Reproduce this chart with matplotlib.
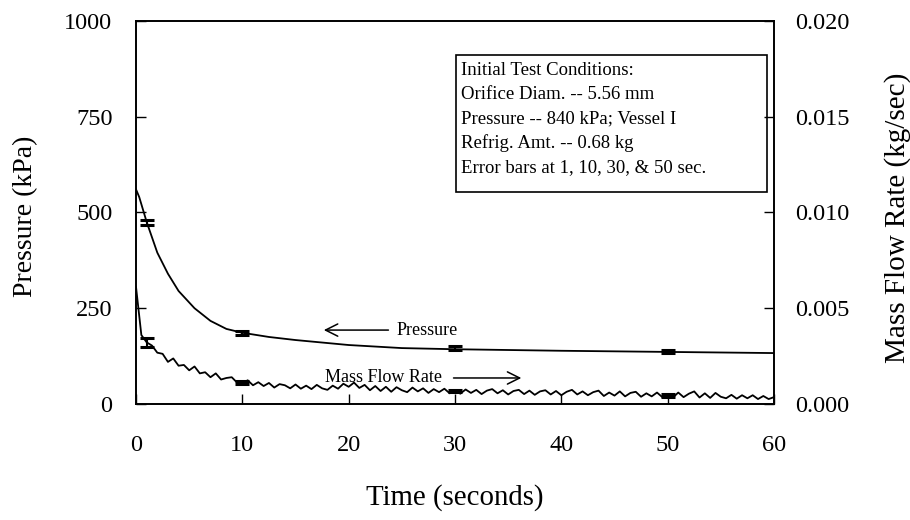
import numpy as np
import matplotlib
matplotlib.use("Agg")
import matplotlib.pyplot as plt
from matplotlib.patches import Rectangle

plt.rcParams["font.family"] = ["Liberation Serif", "DejaVu Serif"]

# pressure curve (kPa)
pressure_time = [0, 0.3, 1, 2, 3, 4, 5.5, 7, 8.5, 10, 12.5, 15, 20, 25, 30, 40, 50, 60]
pressure = [560, 540, 475, 395, 340, 295, 250, 217, 196, 186, 175, 167, 154, 146, 143, 139, 136, 133]

# mass flow rate (kg/sec), one reading every 0.5 s from 0 to 60 s
mass_flow = [
    0.00610, 0.00360, 0.00322, 0.00305, 0.00268, 0.00262, 0.00220, 0.00238, 0.00200, 0.00204,
    0.00176, 0.00196, 0.00160, 0.00166, 0.00140, 0.00160, 0.00128, 0.00136, 0.00140, 0.00112,
    0.00108, 0.00124, 0.00098, 0.00114, 0.00094, 0.00110, 0.00086, 0.00104, 0.00098, 0.00082,
    0.00102, 0.00080, 0.00096, 0.00078, 0.00100, 0.00082, 0.00074, 0.00096, 0.00080, 0.00106,
    0.00090, 0.00112, 0.00084, 0.00100, 0.00072, 0.00094, 0.00068, 0.00090, 0.00064, 0.00088,
    0.00072, 0.00062, 0.00086, 0.00066, 0.00082, 0.00058, 0.00078, 0.00062, 0.00080, 0.00056,
    0.00072, 0.00054, 0.00076, 0.00058, 0.00074, 0.00052, 0.00070, 0.00078, 0.00056, 0.00072,
    0.00050, 0.00068, 0.00074, 0.00052, 0.00070, 0.00048, 0.00066, 0.00072, 0.00050, 0.00068,
    0.00046, 0.00064, 0.00074, 0.00050, 0.00066, 0.00046, 0.00062, 0.00070, 0.00042, 0.00060,
    0.00044, 0.00066, 0.00040, 0.00058, 0.00064, 0.00038, 0.00056, 0.00040, 0.00060, 0.00036,
    0.00052, 0.00034, 0.00060, 0.00036, 0.00054, 0.00066, 0.00034, 0.00056, 0.00032, 0.00058,
    0.00038, 0.00030, 0.00048, 0.00028, 0.00046, 0.00030, 0.00046, 0.00026, 0.00042, 0.00026,
    0.00036,
]
flow_time = np.linspace(0, 60, len(mass_flow))

# error bars at 1, 10, 30, 50 s
err_time = [1, 10, 30, 50]
err_pressure = [474, 186, 146, 137]
err_pressure_size = [7, 5, 5, 5]
err_flow = [0.00320, 0.00110, 0.00068, 0.00045]
err_flow_size = [0.00024, 0.00008, 0.00006, 0.00006]

conditions = [
    "Initial Test Conditions:",
    "Orifice Diam. -- 5.56 mm",
    "Pressure -- 840 kPa; Vessel I",
    "Refrig. Amt. -- 0.68 kg",
    "Error bars at 1, 10, 30, & 50 sec.",
]

fig = plt.figure(figsize=(9.1, 5.2), dpi=100)
ax = fig.add_axes([0.1495, 0.223, 0.701, 0.737])
ax2 = ax.twinx()

ax.plot(pressure_time, pressure, color="black", lw=1.3)
ax.errorbar(err_time, err_pressure, yerr=err_pressure_size, fmt="none",
            ecolor="black", elinewidth=1.5, capsize=5, capthick=2.2)

ax2.plot(flow_time, mass_flow, color="black", lw=1.3)
ax2.errorbar(err_time, err_flow, yerr=err_flow_size, fmt="none",
             ecolor="black", elinewidth=1.5, capsize=5, capthick=2.2)

ax.set_xlim(0, 60)
ax.set_ylim(0, 1000)
ax2.set_ylim(0, 0.020)
ax.set_xticks([0, 10, 20, 30, 40, 50, 60])
ax.set_yticks([0, 250, 500, 750, 1000])
ax2.set_yticks([0, 0.005, 0.010, 0.015, 0.020])
ax2.set_yticklabels(["0.000", "0.005", "0.010", "0.015", "0.020"])

ax.tick_params(axis="y", direction="in", length=7, width=1, labelsize=17.5, pad=17)
ax.tick_params(axis="x", direction="in", length=7, width=1, labelsize=17.5, pad=22)
ax2.tick_params(axis="y", direction="in", length=7, width=1, labelsize=17.5, pad=15)

for a in (ax, ax2):
    for s in a.spines.values():
        s.set_linewidth(1.2)

ax.set_xlabel("Time (seconds)", fontsize=20.8)
ax.set_ylabel("Pressure (kPa)", fontsize=20)
ax2.set_ylabel("Mass Flow Rate (kg/sec)", fontsize=21, rotation=90)
ax.xaxis.set_label_coords(0.5, -0.21)
ax.yaxis.set_label_coords(-0.153, 0.49)
ax2.yaxis.set_label_coords(1.172, 0.487)

# curve labels with arrows
ax.annotate("", xy=(17.4, 193), xytext=(24.0, 193),
            arrowprops=dict(arrowstyle="->", color="black", lw=1.1, mutation_scale=22))
ax.text(24.5, 193, "Pressure", fontsize=13, va="center", ha="left")
ax.text(17.8, 70, "Mass Flow Rate", fontsize=13, va="center", ha="left")
ax.annotate("", xy=(36.5, 68), xytext=(29.6, 68),
            arrowprops=dict(arrowstyle="->", color="black", lw=1.1, mutation_scale=22))

# test conditions box
ax.add_patch(Rectangle((0.502, 0.554), 0.487, 0.356, transform=ax.transAxes,
                       fill=False, edgecolor="black", lw=1.2, zorder=3))
for i, line in enumerate(conditions):
    ax.text(0.51, 0.87 - i * 0.063, line, transform=ax.transAxes,
            fontsize=13.5, va="center", ha="left")

fig.savefig("out.png", dpi=100)
